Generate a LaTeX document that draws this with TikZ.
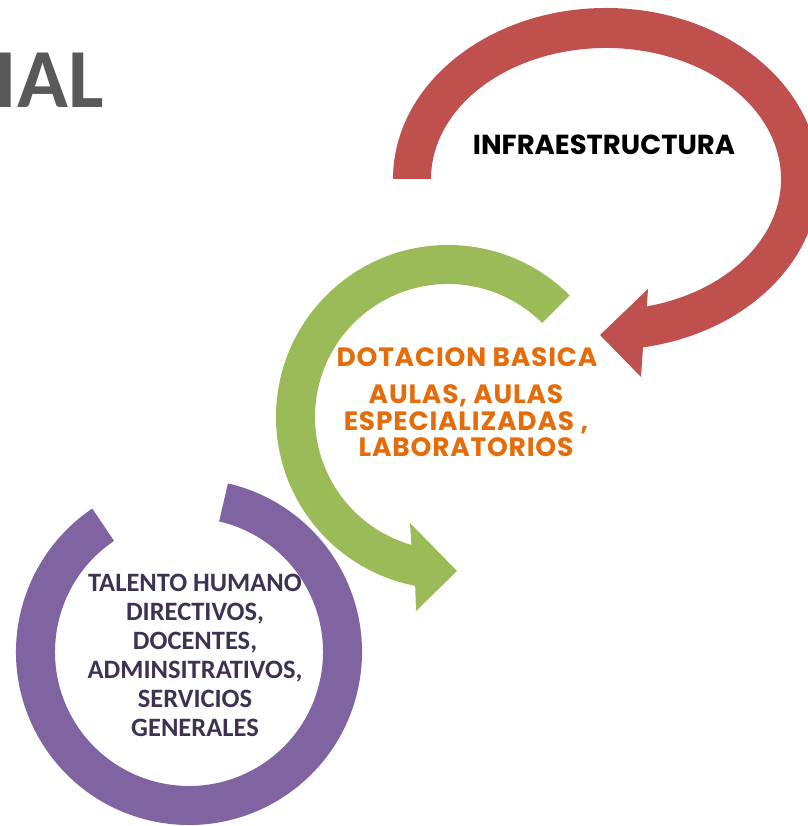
\documentclass[tikz,border=0pt]{standalone}
\usepackage{fontspec}
\newfontfamily\calfont{Carlito}
\newfontfamily\geofont{Poppins}
\newfontfamily\geowide{Poppins}[LetterSpace=3]

\definecolor{arcred}{HTML}{C0504D}
\definecolor{arcgreen}{HTML}{9BBB59}
\definecolor{arcpurple}{HTML}{8064A2}
\definecolor{txtorange}{HTML}{E46C0A}
\definecolor{txtpurple}{HTML}{3F3151}
\definecolor{titlegray}{HTML}{595959}

\tikzset{
	lbl/.style={inner sep=0pt, anchor=base, align=center},
	orangetxt/.style={lbl, text=txtorange, font=\geowide\bfseries\fontsize{26.5}{26.5}\selectfont},
	purpletxt/.style={lbl, text=txtpurple, font=\calfont\bfseries\fontsize{26.5}{29}\selectfont},
}

\begin{document}
\begin{tikzpicture}[x=1pt,y=1pt]
		\useasboundingbox (0,0) rectangle (807,826);
		\coordinate (pc) at (189,174);
		\coordinate (gc) at (448,409);
		\coordinate (rc) at (606,647);
		% title, cut at the left edge
		\node[lbl, anchor=base east, text=titlegray, font=\calfont\bfseries\fontsize{84}{84}\selectfont] (title) at (104,718) {IAL};
		% purple ring
		\fill[arcpurple] ([shift={(77:173)}]pc) arc[start angle=77, end angle=-236, radius=173]
			-- ([shift={(-236:134)}]pc) arc[start angle=-236, end angle=77, radius=134] -- cycle;
		% green arrow
		\fill[arcgreen] ([shift={(45:172)}]gc) arc[start angle=45, end angle=259, radius=172]
			-- (416,215) -- (457,255) -- (410,303)
			-- ([shift={(254:133)}]gc) arc[start angle=254, end angle=45, radius=133] -- cycle;
		% red arrow
		\fill[arcred] ([shift={(180:213 and 171)}]rc) arc[start angle=180, end angle=-80, x radius=213, y radius=171]
			-- (641,449) -- (600,491) -- (648,537)
			-- ([shift={(-76.5:175 and 131)}]rc) arc[start angle=-76.5, end angle=180, x radius=175, y radius=131] -- cycle;
		% labels (base of a multi-line node = its last line)
		\node[lbl, font=\geofont\bfseries\fontsize{27.5}{27.5}\selectfont] (infra) at (604,671) {INFRAESTRUCTURA};
		\node[orangetxt] (dotacion) at (467,459) {DOTACION BASICA};
		\node[orangetxt] (aulas) at (466,369) {AULAS, AULAS\\ESPECIALIZADAS ,\\LABORATORIOS};
		\node[purpletxt] (talento) at (195,89) {TALENTO HUMANO\\DIRECTIVOS,\\DOCENTES,\\ADMINSITRATIVOS,\\SERVICIOS\\GENERALES};
	\end{tikzpicture}
\end{document}
